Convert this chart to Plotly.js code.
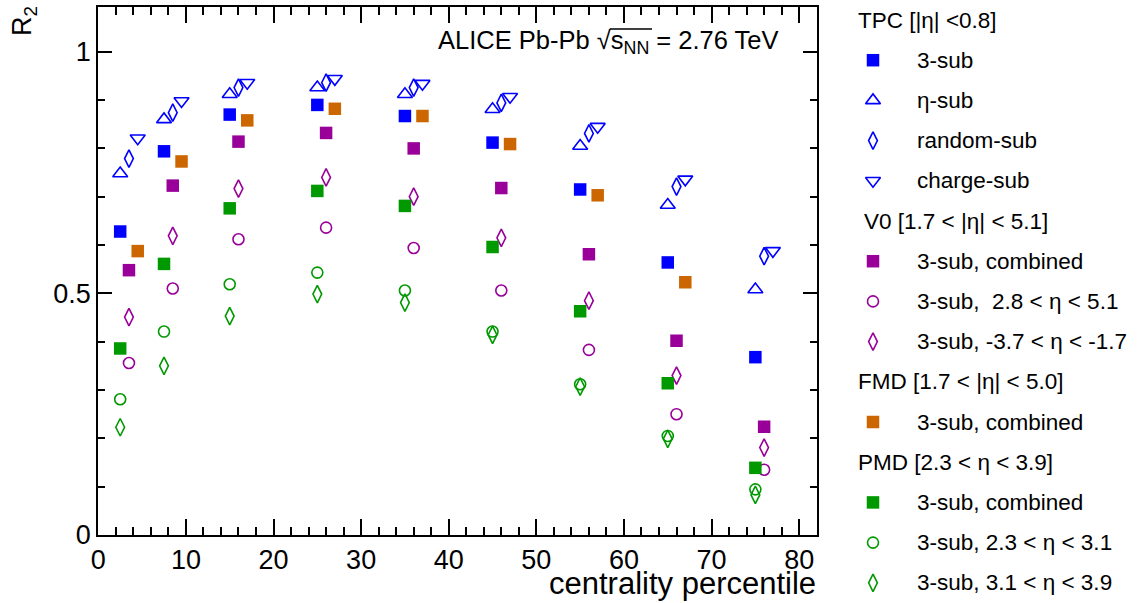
<!DOCTYPE html>
<html>
<head>
<meta charset="utf-8">
<script src="https://cdn.plot.ly/plotly-3.0.1.min.js"></script>
<style>html,body{margin:0;padding:0;background:#fff;}#chart{width:1138px;height:603px;}</style>
</head>
<body>
<div id="chart"></div>
<script>
// ---- data ----
var centCenter = [2.5, 7.5, 15, 25, 35, 45, 55, 65, 75];
var centPlus1  = [3.5, 8.5, 16, 26, 36, 46, 56, 66, 76];
var centPlus2  = [4.5, 9.5, 17, 27, 37, 47, 57, 67, 77];

var tpc3sub     = [0.628, 0.794, 0.870, 0.890, 0.867, 0.812, 0.715, 0.564, 0.368];
var tpcEtaSub   = [0.748, 0.860, 0.912, 0.926, 0.912, 0.881, 0.805, 0.683, 0.508];
var tpcRandSub  = [0.779, 0.874, 0.926, 0.936, 0.926, 0.894, 0.831, 0.721, 0.577];
var tpcChrgSub  = [0.821, 0.898, 0.936, 0.944, 0.934, 0.907, 0.845, 0.736, 0.588];

var v0Comb      = [0.548, 0.723, 0.814, 0.832, 0.800, 0.718, 0.581, 0.402, 0.224];
var v0Fwd       = [0.356, 0.510, 0.612, 0.636, 0.594, 0.506, 0.383, 0.250, 0.135];
var v0Bwd       = [0.451, 0.619, 0.717, 0.740, 0.700, 0.615, 0.485, 0.330, 0.181];

var fmdComb     = [0.5875, 0.773, 0.858, 0.882, 0.867, 0.809, 0.703, 0.523];

var pmdComb     = [0.386, 0.561, 0.676, 0.712, 0.681, 0.596, 0.463, 0.314, 0.139];
var pmdLow      = [0.281, 0.421, 0.519, 0.543, 0.506, 0.421, 0.312, 0.205, 0.0945];
var pmdHigh     = [0.223, 0.350, 0.453, 0.4985, 0.481, 0.414, 0.307, 0.199, 0.083];

var legendHeaders = [
  {row: 0,  text: 'TPC [|η| &lt;0.8]',         indent: 0},
  {row: 5,  text: 'V0 [1.7 &lt; |η| &lt; 5.1]',  indent: 6},
  {row: 9,  text: 'FMD [1.7 &lt; |η| &lt; 5.0]', indent: 0},
  {row: 11, text: 'PMD [2.3 &lt; η &lt; 3.9]',   indent: 0}
];

// ---- styles ----
var BLUE = '#0000ff', MAG = '#990099', ORA = '#cc6600', GRN = '#009900';
var FONT = 'Liberation Sans, Arial, Helvetica, sans-serif';
var LEG_FONT = 22.5;

function mk(symbol, color, size) {
  var open = symbol.indexOf('open') >= 0;
  return open ? {symbol: symbol, size: size, color: color, line: {color: color, width: 1.6}}
              : {symbol: symbol, size: size, color: color, line: {width: 0}};
}

var series = [
  {x: centCenter, y: tpc3sub,    label: '3-sub',                    row: 1,  m: mk('square', BLUE, 12.5)},
  {x: centCenter, y: tpcEtaSub,  label: 'η-sub',                    row: 2,  m: mk('triangle-up-open', BLUE, 13)},
  {x: centPlus1,  y: tpcRandSub, label: 'random-sub',               row: 3,  m: mk('diamond-tall-open', BLUE, 12.5)},
  {x: centPlus2,  y: tpcChrgSub, label: 'charge-sub',               row: 4,  m: mk('triangle-down-open', BLUE, 13)},
  {x: centPlus1,  y: v0Comb,     label: '3-sub, combined',          row: 6,  m: mk('square', MAG, 12.5)},
  {x: centPlus1,  y: v0Fwd,      label: '3-sub,  2.8 &lt; η &lt; 5.1',   row: 7,  m: mk('circle-open', MAG, 11)},
  {x: centPlus1,  y: v0Bwd,      label: '3-sub, -3.7 &lt; η &lt; -1.7',  row: 8,  m: mk('diamond-tall-open', MAG, 12.5)},
  {x: centPlus2.slice(0, fmdComb.length), y: fmdComb, label: '3-sub, combined', row: 10, m: mk('square', ORA, 12.5)},
  {x: centCenter, y: pmdComb,    label: '3-sub, combined',          row: 12, m: mk('square', GRN, 12.5)},
  {x: centCenter, y: pmdLow,     label: '3-sub, 2.3 &lt; η &lt; 3.1',    row: 13, m: mk('circle-open', GRN, 11)},
  {x: centCenter, y: pmdHigh,    label: '3-sub, 3.1 &lt; η &lt; 3.9',    row: 14, m: mk('diamond-tall-open', GRN, 12.5)}
];

// legend geometry (in the legend subplot's own units)
var LEG_MARK_X = 873, LEG_TEXT_X = 915, LEG_HEAD_X = 856;

var traces = [];
var annotations = [];
series.forEach(function (s) {
  traces.push({type: 'scatter', mode: 'markers', x: s.x, y: s.y, marker: s.m,
               xaxis: 'x', yaxis: 'y', showlegend: false, hoverinfo: 'skip', cliponaxis: false});
  traces.push({type: 'scatter', mode: 'markers', x: [LEG_MARK_X], y: [s.row], marker: s.m,
               xaxis: 'x2', yaxis: 'y2', showlegend: false, hoverinfo: 'skip', cliponaxis: false});
  annotations.push({xref: 'x2', yref: 'y2', x: LEG_TEXT_X, y: s.row, text: s.label,
                    xanchor: 'left', yanchor: 'middle', showarrow: false,
                    font: {family: FONT, size: LEG_FONT, color: '#000'}});
});
legendHeaders.forEach(function (h) {
  annotations.push({xref: 'x2', yref: 'y2', x: LEG_HEAD_X + h.indent, y: h.row, text: h.text,
                    xanchor: 'left', yanchor: 'middle', showarrow: false,
                    font: {family: FONT, size: LEG_FONT, color: '#000'}});
});

// ALICE label
annotations.push({xref: 'paper', yref: 'paper', x: 781 / 1138, y: 1 - 42 / 603,
  xanchor: 'right', yanchor: 'middle', showarrow: false,
  text: 'ALICE Pb-Pb √s<sub>NN</sub> = 2.76 TeV',
  font: {family: FONT, size: 25.5, color: '#000'}});
// x axis title (right aligned like ROOT)
annotations.push({xref: 'paper', yref: 'paper', x: 818 / 1138, y: 0,
  xanchor: 'right', yanchor: 'bottom', showarrow: false,
  text: 'centrality percentile', font: {family: FONT, size: 31, color: '#000'}});
// y axis title (top aligned like ROOT)
annotations.push({xref: 'paper', yref: 'paper', x: 24 / 1138, y: 1 - 4 / 603,
  xanchor: 'center', yanchor: 'top', showarrow: false, textangle: -90,
  text: 'R<sub>2</sub>', font: {family: FONT, size: 27, color: '#000'}});

var axisCommon = {
  showgrid: false, zeroline: false, showline: true, linecolor: '#000', linewidth: 2,
  mirror: 'ticks', ticks: 'inside', tickcolor: '#000', tickwidth: 2,
  tickfont: {family: FONT, size: 27, color: '#000'}, fixedrange: true
};

var layout = {
  width: 1138, height: 603,
  margin: {l: 0, r: 0, t: 0, b: 0, pad: 0},
  paper_bgcolor: '#fff', plot_bgcolor: 'rgba(0,0,0,0)',
  showlegend: false, hovermode: false,
  xaxis: Object.assign({}, axisCommon, {
    domain: [98.3 / 1138, 816.7 / 1138], range: [0, 82], anchor: 'y',
    tickmode: 'linear', tick0: 0, dtick: 10, ticklen: 16,
    minor: {dtick: 2, tick0: 0, ticklen: 8, ticks: 'inside', tickcolor: '#000', tickwidth: 2, showgrid: false}
  }),
  yaxis: Object.assign({}, axisCommon, {
    domain: [1 - 535 / 603, 1 - 7.3 / 603], range: [0, 1.092], anchor: 'x',
    tickmode: 'array', tickvals: [0, 0.5, 1], ticktext: ['0', '0.5', '1'], ticklen: 14,
    minor: {dtick: 0.1, tick0: 0, ticklen: 7, ticks: 'inside', tickcolor: '#000', tickwidth: 2, showgrid: false}
  }),
  xaxis2: {domain: [0, 1], range: [0, 1138], anchor: 'y2', visible: false, fixedrange: true},
  yaxis2: {domain: [0, 1], range: [14.502, -0.4975], anchor: 'x2', visible: false, fixedrange: true},
  shapes: [
    // overbar of the square-root sign over s_NN
    {type: 'line', xref: 'paper', yref: 'paper', x0: 610 / 1138, x1: 652 / 1138,
     y0: 1 - 29 / 603, y1: 1 - 29 / 603, line: {color: '#000', width: 1.5}}
  ],
  annotations: annotations
};

Plotly.newPlot('chart', traces, layout, {staticPlot: true, displayModeBar: false});
</script>
</body>
</html>
